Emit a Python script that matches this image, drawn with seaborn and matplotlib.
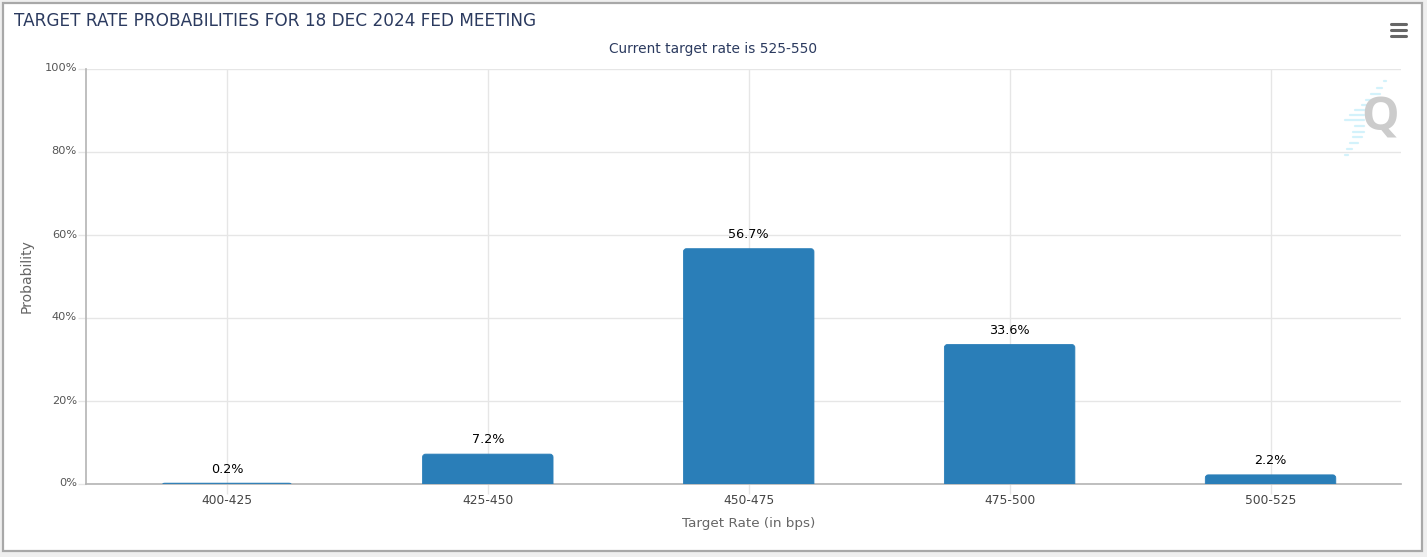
import matplotlib
matplotlib.use('Agg')
import matplotlib.pyplot as plt
import matplotlib.transforms as mtrans
import pandas as pd
import seaborn as sns
from matplotlib.lines import Line2D
from matplotlib.patches import FancyBboxPatch, Rectangle

# Dados do gráfico
faixas = ['400-425', '425-450', '450-475', '475-500', '500-525']
probabilidades = [0.2, 7.2, 56.7, 33.6, 2.2]
rotulos = ['0.2%', '7.2%', '56.7%', '33.6%', '2.2%']
ticks_y = [0, 20, 40, 60, 80, 100]

titulo = 'TARGET RATE PROBABILITIES FOR 18 DEC 2024 FED MEETING'
subtitulo = 'Current target rate is 525-550'

COR_BARRA = '#2a7eb8'
COR_TITULO = '#2b3a5f'
COR_GRADE = '#e6e6e6'
COR_EIXO = '#b4b4b4'

W, H = 1427, 557

sns.set_theme(style='white')
plt.rcParams['font.family'] = ['DejaVu Sans']

df = pd.DataFrame({'faixa': faixas, 'prob': probabilidades})

fig = plt.figure(figsize=(W / 100, H / 100), dpi=100, facecolor='#efefef')


def fx(px):
    return px / W


def fy(py):
    return 1 - py / H


# Moldura branca do gráfico
fig.add_artist(Rectangle((fx(3), fy(551)), fx(1419), 548 / H,
                         transform=fig.transFigure, facecolor='white',
                         edgecolor='#a8a8a8', linewidth=1.6, zorder=-5))

ax = fig.add_axes([fx(86), fy(484), fx(1315), 415 / H])
ax.patch.set_alpha(0)

sns.barplot(data=df, x='faixa', y='prob', color=COR_BARRA, width=0.5,
            saturation=1, ax=ax, zorder=3)

ax.set_xlim(-0.54, 4.5)
ax.set_ylim(0, 100)
ax.set_yticks(ticks_y)
ax.set_yticklabels([f'{t}%' for t in ticks_y])

# Barras com cantos arredondados, a partir da geometria do seaborn
for barra in list(ax.patches):
    x, w, h = barra.get_x(), barra.get_width(), barra.get_height()
    barra.set_visible(False)
    ax.add_patch(FancyBboxPatch((x, -3), w, h + 3,
                                boxstyle='round,pad=0,rounding_size=0.0115',
                                mutation_aspect=63, facecolor=COR_BARRA,
                                edgecolor=COR_BARRA, linewidth=0.6, zorder=3))

for i, (v, r) in enumerate(zip(probabilidades, rotulos)):
    ax.annotate(r, (i, v), xytext=(0, 5.5), textcoords='offset points',
                ha='center', va='bottom', fontsize=9.2, color='black', zorder=4)

ax.grid(True, color=COR_GRADE, linewidth=1)
ax.set_axisbelow(True)
for lado in ['top', 'right']:
    ax.spines[lado].set_visible(False)
for lado in ['left', 'bottom']:
    ax.spines[lado].set_color(COR_EIXO)
    ax.spines[lado].set_linewidth(1.2)

ax.tick_params(axis='x', length=7, width=1, color=COR_GRADE, pad=0.5,
               labelsize=8.8, labelcolor='#444444', bottom=True)
ax.tick_params(axis='y', length=6, width=1, color=COR_GRADE, pad=0.5,
               labelsize=8.2, labelcolor='#555555', left=True)

# Rótulos do eixo y ficam um pouco acima da linha de grade
deslocamento = mtrans.ScaledTranslation(0, 1.5 / 100, fig.dpi_scale_trans)
for rot in ax.get_yticklabels():
    rot.set_transform(rot.get_transform() + deslocamento)

ax.set_xlabel('')
ax.set_ylabel('Probability', fontsize=10, color='#666666', labelpad=8)

fig.text(fx(749), fy(524), 'Target Rate (in bps)', fontsize=9.7, color='#666666',
         ha='center', va='center')
fig.text(fx(14), fy(21), titulo, fontsize=12.2, color=COR_TITULO, va='center', ha='left')
fig.text(fx(713), fy(48.5), subtitulo, fontsize=9.9, color=COR_TITULO, va='center', ha='center')

# Botão de menu
for py in [24, 30, 36]:
    fig.add_artist(Line2D([fx(1391), fx(1406)], [fy(py), fy(py)], color='#666666',
                          linewidth=2.2, solid_capstyle='round'))

# Marca d'água
traços = [(1384, 1386, 81), (1377, 1382, 88), (1371, 1380, 94), (1366, 1376, 100),
          (1362, 1372, 105), (1355, 1366, 110), (1350, 1364, 115), (1345, 1364, 120),
          (1355, 1364, 126), (1353, 1364, 132), (1353, 1362, 137), (1350, 1358, 143),
          (1347, 1352, 149), (1345, 1348, 155)]
for a, b, py in traços:
    fig.add_artist(Line2D([fx(a), fx(b)], [fy(py), fy(py)], color='#d3f2fb', linewidth=1.6))
fig.text(fx(1380), fy(118), 'Q', fontsize=34, fontweight='bold', color='#cccccc',
         ha='center', va='center', family='Open Sans')

plt.savefig('out.png', dpi=100, facecolor=fig.get_facecolor())
